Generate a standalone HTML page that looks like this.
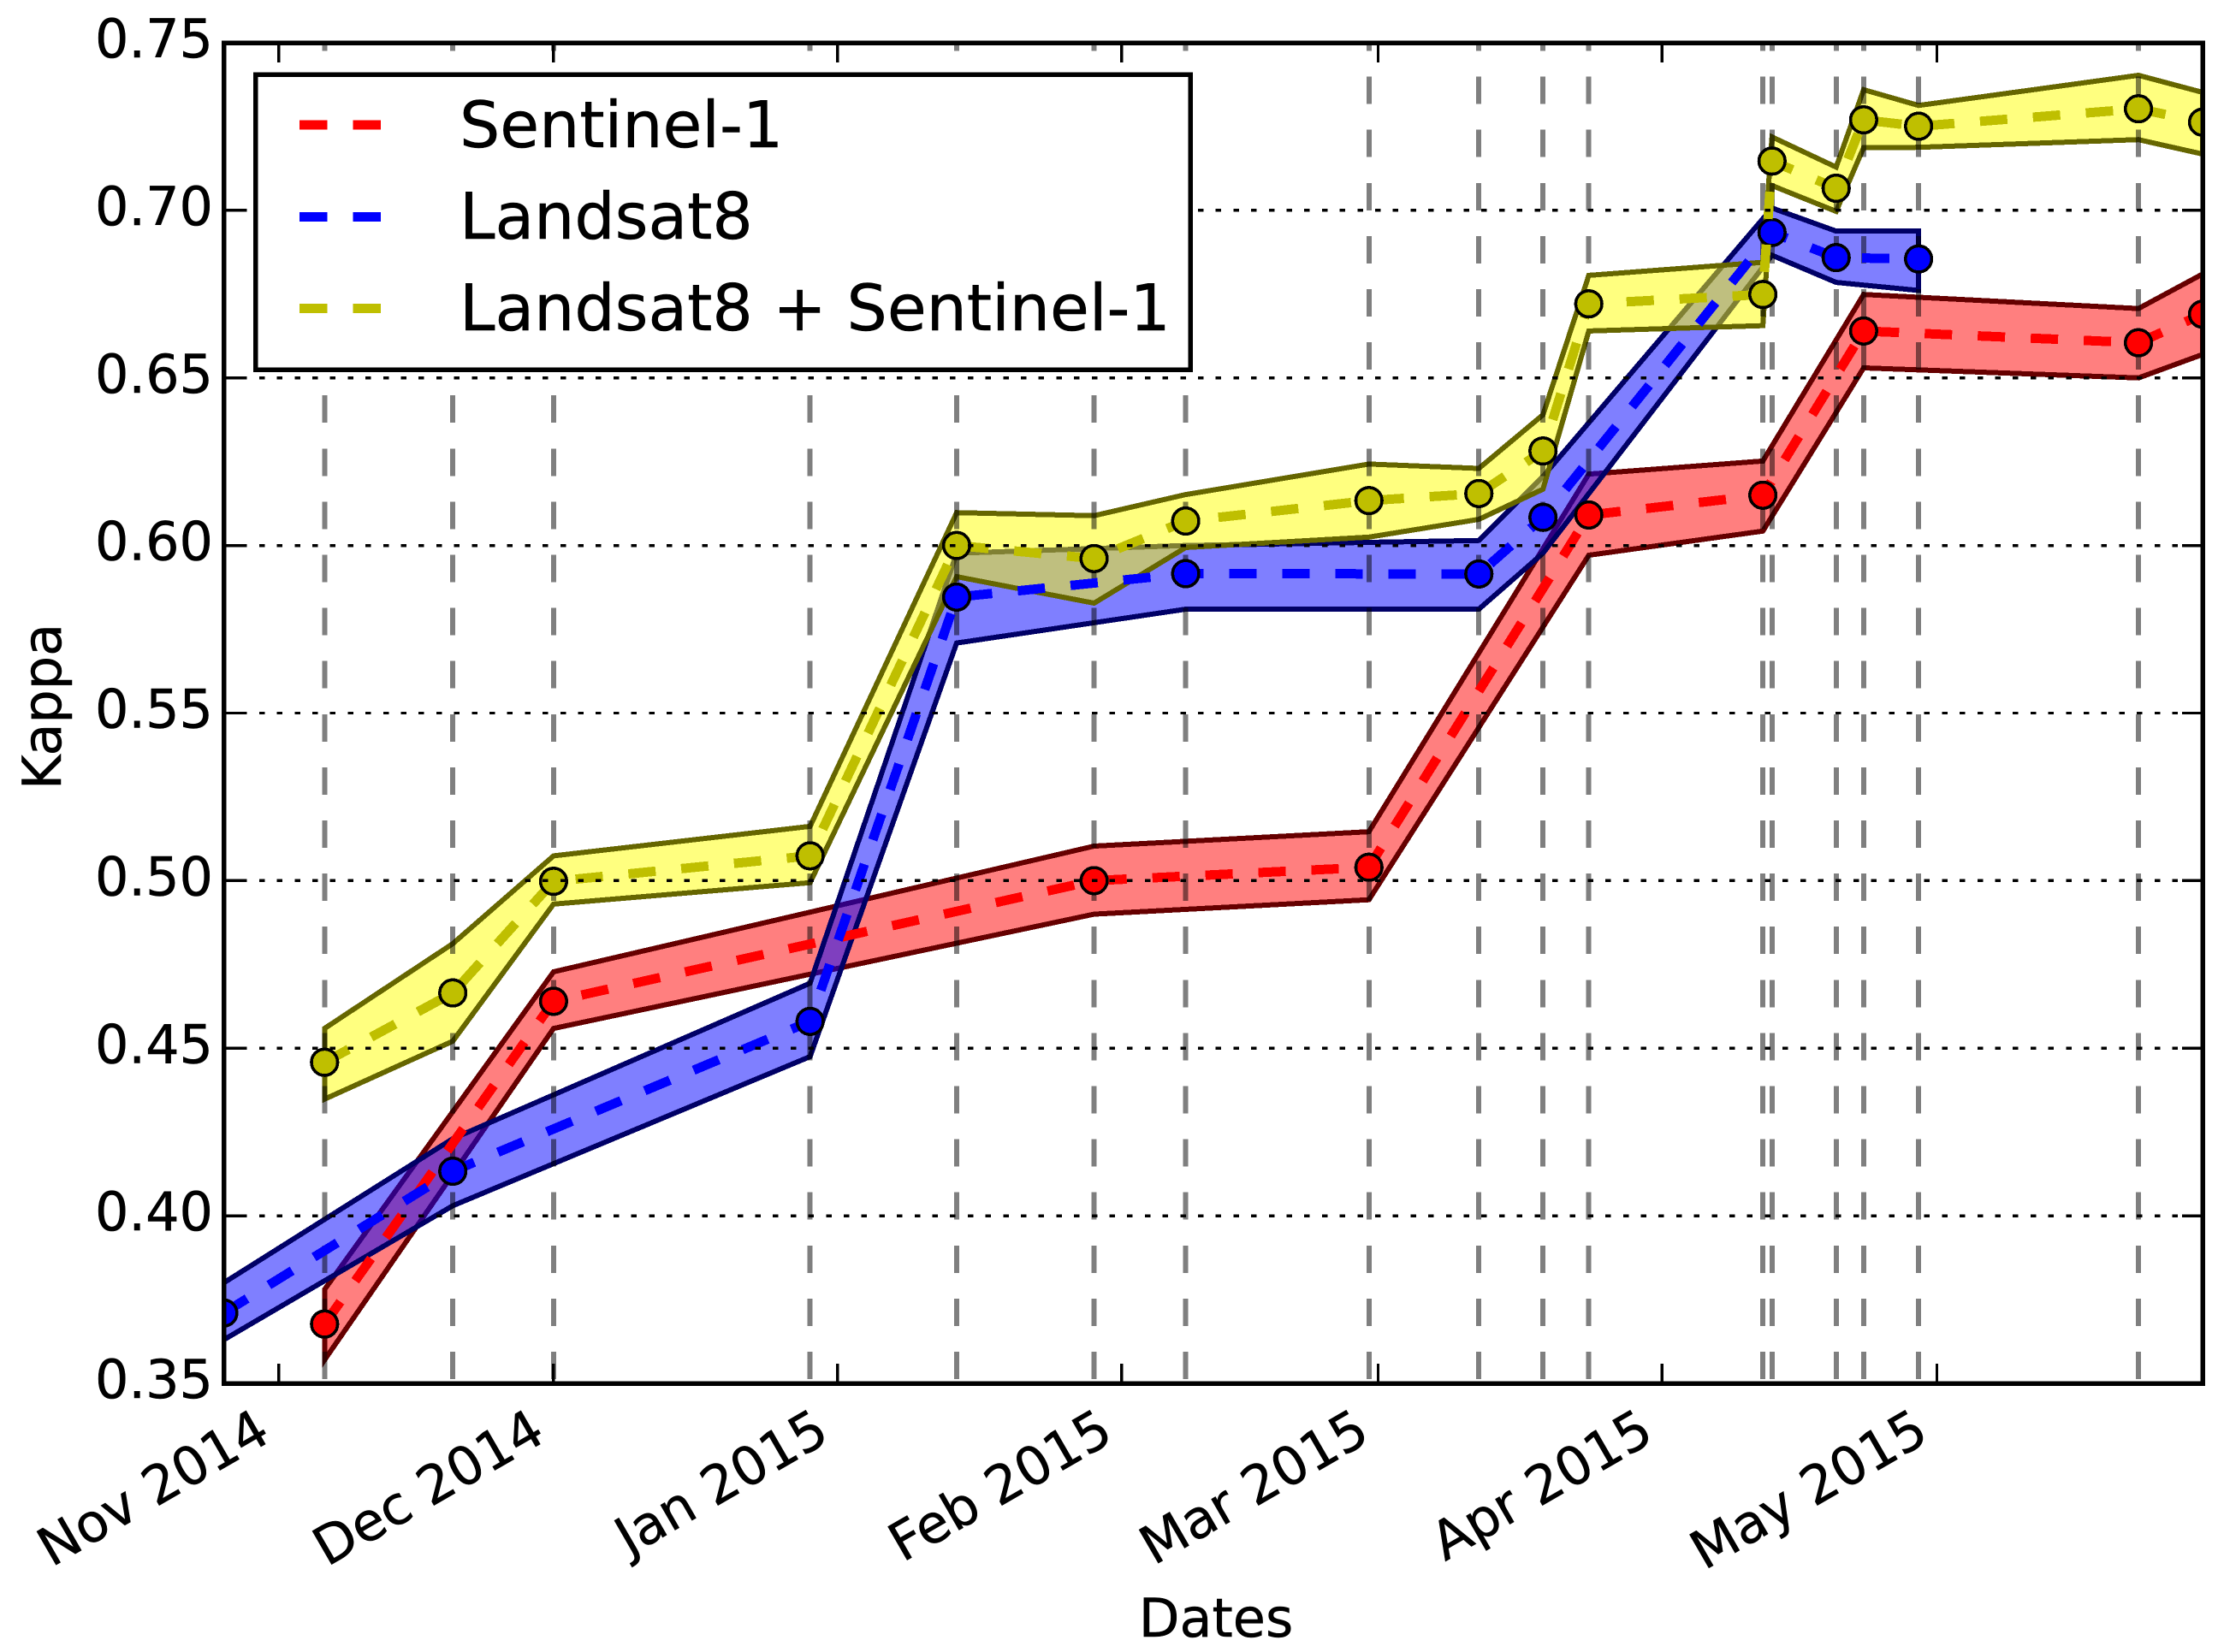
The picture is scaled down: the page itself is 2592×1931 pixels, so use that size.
<!DOCTYPE html>
<html lang="en">
<head>
<meta charset="utf-8">
<title>Kappa over time</title>
<style>
  html, body { margin: 0; padding: 0; background: #fff; }
  svg { display: block; shape-rendering: crispEdges; }
  text { font-family: "DejaVu Sans", "Liberation Sans", sans-serif; fill: #000; stroke: #000; stroke-width: 0.5px; }
</style>
</head>
<body>
<svg id="chart" xmlns="http://www.w3.org/2000/svg" width="2592" height="1931" viewBox="0 0 2592 1931">
  <rect x="0" y="0" width="2592" height="1931" fill="#ffffff"/>
  <defs>
    <clipPath id="plot-clip"><rect x="261.5" y="50" width="2312.5" height="1567"/></clipPath>
  </defs>
  <g id="fills" clip-path="url(#plot-clip)"></g>
  <g id="vlines" clip-path="url(#plot-clip)"></g>
  <g id="series" clip-path="url(#plot-clip)"></g>
  <g id="grid" clip-path="url(#plot-clip)"></g>
  <g id="ticks"></g>
  <rect x="261.5" y="50" width="2312.5" height="1567" fill="none" stroke="#000" stroke-width="5.5"/>
  <g id="tick-labels" font-size="62"></g>
  <text x="1421" y="1913" font-size="62" text-anchor="middle">Dates</text>
  <text x="0" y="0" font-size="62" text-anchor="middle" transform="translate(71 826) rotate(-90)">Kappa</text>

  <g>
    <rect x="298.5" y="87" width="1092.5" height="345" fill="#ffffff" stroke="#000" stroke-width="5.5"/>
    <g>
      <line x1="350" x2="445" y1="146" y2="146" stroke="#ff0000" stroke-width="11" stroke-dasharray="32.5 30"/>
      <text x="537" y="172" font-size="74.5">Sentinel-1</text>
    </g>
    <g>
      <line x1="350" x2="445" y1="253.5" y2="253.5" stroke="#0000ff" stroke-width="11" stroke-dasharray="32.5 30"/>
      <text x="537" y="279" font-size="74.5">Landsat8</text>
    </g>
    <g>
      <line x1="350" x2="445" y1="360.5" y2="360.5" stroke="#bfbf00" stroke-width="11" stroke-dasharray="32.5 30"/>
      <text x="537" y="386" font-size="74.5">Landsat8 + Sentinel-1</text>
    </g>
  </g>
</svg>

<script>
// ---- chart data ----
const yTickValues = [0.35, 0.40, 0.45, 0.50, 0.55, 0.60, 0.65, 0.70, 0.75];
const yTickLabels = ['0.35', '0.40', '0.45', '0.50', '0.55', '0.60', '0.65', '0.70', '0.75'];
const monthTickDates = ['2014-11-01', '2014-12-01', '2015-01-01', '2015-02-01', '2015-03-01', '2015-04-01', '2015-05-01'];
const monthTickLabels = ['Nov 2014', 'Dec 2014', 'Jan 2015', 'Feb 2015', 'Mar 2015', 'Apr 2015', 'May 2015'];

const acquisitionDates = ['2014-11-06', '2014-11-20', '2014-12-01', '2014-12-29', '2015-01-14', '2015-01-29', '2015-02-08', '2015-02-28', '2015-03-12', '2015-03-19', '2015-03-24', '2015-04-12', '2015-04-13', '2015-04-20', '2015-04-23', '2015-04-29', '2015-05-23'];

const sentinelDates = ['2014-11-06', '2014-12-01', '2015-01-29', '2015-02-28', '2015-03-24', '2015-04-12', '2015-04-23', '2015-05-23', '2015-05-30'];
const sentinelValues = [0.3677, 0.4640, 0.5000, 0.5040, 0.6091, 0.6150, 0.6640, 0.6605, 0.6690];
const sentinelUpper = [0.3780, 0.4728, 0.5103, 0.5146, 0.6213, 0.6252, 0.6749, 0.6707, 0.6810];
const sentinelLower = [0.3570, 0.4559, 0.4900, 0.4943, 0.5971, 0.6043, 0.6530, 0.6500, 0.6570];

const landsatDates = ['2014-10-26', '2014-11-20', '2014-12-29', '2015-01-14', '2015-02-08', '2015-03-12', '2015-03-19', '2015-04-13', '2015-04-20', '2015-04-29'];
const landsatValues = [0.3710, 0.4133, 0.4580, 0.5846, 0.5916, 0.5915, 0.6084, 0.6934, 0.6859, 0.6855];
const landsatUpper = [0.3800, 0.4230, 0.4694, 0.5977, 0.6000, 0.6015, 0.6206, 0.7007, 0.6938, 0.6938];
const landsatLower = [0.3630, 0.4030, 0.4475, 0.5709, 0.5810, 0.5810, 0.5977, 0.6866, 0.6785, 0.6761];

const fusionDates = ['2014-11-06', '2014-11-20', '2014-12-01', '2014-12-29', '2015-01-14', '2015-01-29', '2015-02-08', '2015-02-28', '2015-03-12', '2015-03-19', '2015-03-24', '2015-04-12', '2015-04-13', '2015-04-20', '2015-04-23', '2015-04-29', '2015-05-23', '2015-05-30'];
const fusionValues = [0.4458, 0.4665, 0.4998, 0.5074, 0.6000, 0.5961, 0.6073, 0.6134, 0.6155, 0.6282, 0.6721, 0.6749, 0.7147, 0.7066, 0.7270, 0.7251, 0.7303, 0.7263];
const fusionUpper = [0.4559, 0.4812, 0.5074, 0.5162, 0.6098, 0.6089, 0.6152, 0.6243, 0.6230, 0.6390, 0.6806, 0.6845, 0.7219, 0.7129, 0.7360, 0.7313, 0.7403, 0.7352];
const fusionLower = [0.4348, 0.4521, 0.4930, 0.4994, 0.5907, 0.5828, 0.5994, 0.6025, 0.6078, 0.6168, 0.6640, 0.6656, 0.7074, 0.6997, 0.7187, 0.7188, 0.7211, 0.7168];

// ---- axis functions ----
const PLOT_LEFT = 261.5, PLOT_RIGHT = 2574, PLOT_TOP = 50, PLOT_BOTTOM = 1617;
const X_START = Date.UTC(2014, 9, 26), X_END = Date.UTC(2015, 4, 30);
const Y_MIN = 0.35, Y_MAX = 0.75;
function xScale(dateText) {
  const parts = dateText.split('-').map(Number);
  const t = Date.UTC(parts[0], parts[1] - 1, parts[2]);
  return PLOT_LEFT + (t - X_START) / (X_END - X_START) * (PLOT_RIGHT - PLOT_LEFT);
}
function yScale(v) {
  return PLOT_BOTTOM - (v - Y_MIN) / (Y_MAX - Y_MIN) * (PLOT_BOTTOM - PLOT_TOP);
}

const SVG_NS = 'http://www.w3.org/2000/svg';
function make(tag, parent, attrs, text) {
  const node = document.createElementNS(SVG_NS, tag);
  for (const k in attrs) node.setAttribute(k, attrs[k]);
  if (text !== undefined) node.textContent = text;
  parent.appendChild(node);
  return node;
}

const fillsLayer = document.getElementById('fills');
const vlinesLayer = document.getElementById('vlines');
const seriesLayer = document.getElementById('series');
const gridLayer = document.getElementById('grid');
const ticksLayer = document.getElementById('ticks');
const tickLabelsLayer = document.getElementById('tick-labels');

function drawBand(slug, dates, upper, lower, fill, edge) {
  const top = dates.map((d, i) => xScale(d).toFixed(2) + ',' + yScale(upper[i]).toFixed(2));
  const bottom = dates.map((d, i) => xScale(d).toFixed(2) + ',' + yScale(lower[i]).toFixed(2)).reverse();
  const band = make('polygon', fillsLayer, {
    points: top.concat(bottom).join(' '),
    fill: fill,
    'fill-opacity': 0.5,
    stroke: edge,
    'stroke-width': 6,
    'stroke-linejoin': 'miter',
    'stroke-miterlimit': 10
  });
  
  
}

function drawSeries(slug, dates, values, color) {
  const pts = dates.map((d, i) => xScale(d).toFixed(2) + ',' + yScale(values[i]).toFixed(2)).join(' ');
  const line = make('polyline', seriesLayer, {
    points: pts,
    fill: 'none',
    stroke: color,
    'stroke-width': 11,
    'stroke-dasharray': '32 30',
    'stroke-linejoin': 'round'
  });
  
  
  dates.forEach((d, i) => {
    const dot = make('circle', seriesLayer, {
      cx: xScale(d).toFixed(2),
      cy: yScale(values[i]).toFixed(2),
      r: 15.3,
      fill: color,
      stroke: '#000',
      'stroke-width': 3.6
    });
    
    
  });
}

// bands first (red, blue, yellow stack in this order)
drawBand('sentinel-1', sentinelDates, sentinelUpper, sentinelLower, '#ff0000', '#660000');
drawBand('landsat8', landsatDates, landsatUpper, landsatLower, '#0000ff', '#000066');
drawBand('landsat8-sentinel-1', fusionDates, fusionUpper, fusionLower, '#ffff00', '#666600');

// vertical acquisition date lines
acquisitionDates.forEach((d) => {
  const x = xScale(d).toFixed(2);
  const v = make('line', vlinesLayer, {
    x1: x, x2: x, y1: 1612, y2: PLOT_TOP,
    stroke: '#000',
    'stroke-opacity': 0.5,
    'stroke-width': 6,
    'stroke-dasharray': '32 30.1'
  });
  
  
});

// lines and markers
drawSeries('sentinel-1', sentinelDates, sentinelValues, '#ff0000');
drawSeries('landsat8', landsatDates, landsatValues, '#0000ff');
drawSeries('landsat8-sentinel-1', fusionDates, fusionValues, '#bfbf00');

// y axis grid, ticks, labels
yTickValues.forEach((v, i) => {
  const y = yScale(v).toFixed(2);
  const g = make('line', gridLayer, {
    x1: PLOT_LEFT, x2: PLOT_RIGHT, y1: y, y2: y,
    stroke: '#000',
    'stroke-width': 3.4,
    'stroke-dasharray': '6.5 14.2'
  });
  
  
  const left = make('line', ticksLayer, { x1: PLOT_LEFT, x2: PLOT_LEFT + 24, y1: y, y2: y, stroke: '#000', 'stroke-width': 3.4 });
  
  
  const right = make('line', ticksLayer, { x1: PLOT_RIGHT - 24, x2: PLOT_RIGHT, y1: y, y2: y, stroke: '#000', 'stroke-width': 3.4 });
  
  
  const label = make('text', tickLabelsLayer, { x: 249, y: (yScale(v) + 17).toFixed(2), 'text-anchor': 'end' }, yTickLabels[i]);
  
  
});

// x axis ticks and rotated labels
monthTickDates.forEach((d, i) => {
  const x = xScale(d);
  const bottom = make('line', ticksLayer, { x1: x, x2: x, y1: PLOT_BOTTOM, y2: PLOT_BOTTOM - 23, stroke: '#000', 'stroke-width': 3.4 });
  
  
  const top = make('line', ticksLayer, { x1: x, x2: x, y1: PLOT_TOP, y2: PLOT_TOP + 23, stroke: '#000', 'stroke-width': 3.4 });
  
  
  const label = make('text', tickLabelsLayer, {
    x: 0, y: 0, 'text-anchor': 'end',
    transform: 'translate(' + (x - 7).toFixed(2) + ' 1683) rotate(-30)'
  }, monthTickLabels[i]);
  
  
});
</script>
</body>
</html>
